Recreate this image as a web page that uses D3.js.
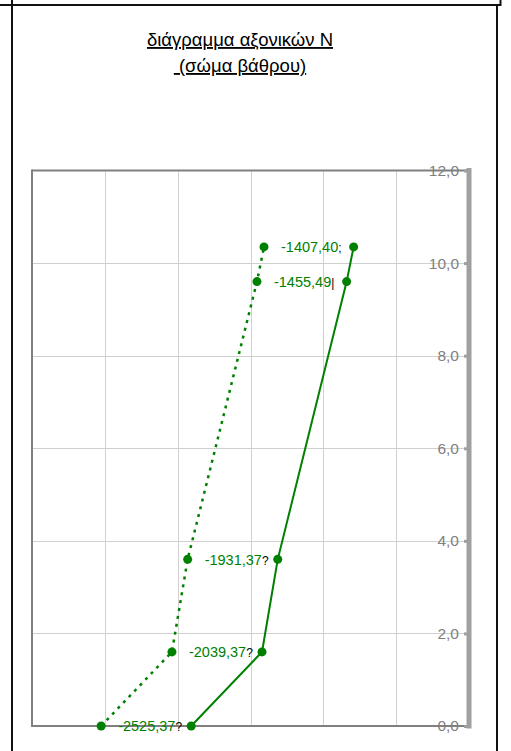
<!DOCTYPE html>
<html>
<head>
<meta charset="utf-8">
<script src="https://cdn.jsdelivr.net/npm/d3@7"></script>
<style>
  html, body { margin: 0; padding: 0; background: #fff; }
  svg { display: block; font-family: "Liberation Sans", Arial, sans-serif; }
</style>
</head>
<body>
<svg id="chart" width="511" height="751"></svg>
<script>
// Height of each section along the pier body (m)
const heights = [0, 1.6, 3.6, 9.6, 10.35];
// Axial force N, labelled series (kN)
const nDotted = [-2525.37, -2039.37, -1931.37, -1455.49, -1407.40];
// Axial force N, second series (kN)
const nSolid = [-1907, -1421, -1313, -840, -792];
// Trailing characters printed after each value label
const labelTails = ["?", "?", "?", "|", ";"];
// Vertical axis ticks
const yTicks = [0, 2, 4, 6, 8, 10, 12];
// Vertical grid positions along N
const xGrid = [-2500, -2000, -1500, -1000, -500];

const titleLines = ["διάγραμμα αξονικών Ν", " (σώμα βάθρου)"];

// Greek number style: comma decimal, plain hyphen minus
const locale = d3.formatLocale({ decimal: ",", thousands: ".", grouping: [3], currency: ["", "€"], minus: "-" });
const fmt1 = locale.format(".1f");
const fmt2 = locale.format(".2f");

const svg = d3.select("#chart");
const green = "#008000";

const x = d3.scaleLinear().domain([-3000, 0]).range([32, 469]);
const y = d3.scaleLinear().domain([0, 12]).range([726, 170.5]);

// Outer frame of the sheet
const frame = svg.append("g").attr("stroke", "#111").attr("stroke-width", 2).attr("fill", "none");
frame.append("line").attr("x1", 0).attr("x2", 501).attr("y1", 5).attr("y2", 5);
frame.append("line").attr("x1", 12).attr("x2", 12).attr("y1", 0).attr("y2", 751);
frame.append("line").attr("x1", 500.5).attr("x2", 500.5).attr("y1", 0).attr("y2", 6);
frame.append("line").attr("x1", 497).attr("x2", 497).attr("y1", 5).attr("y2", 751);

// Title
svg.append("g").selectAll("text").data(titleLines).join("text")
  .attr("x", 240)
  .attr("y", (d, i) => 46 + i * 26)
  .attr("text-anchor", "middle")
  .attr("font-size", 18.5)
  .attr("fill", "#000")
  .style("text-decoration", "underline")
  .style("white-space", "pre")
  .text(d => d);

// Grid
const grid = svg.append("g").attr("stroke", "#d0d0d0").attr("stroke-width", 1);
grid.selectAll(".h").data(yTicks.filter(t => t > 0 && t < 12)).join("line")
  .attr("x1", x(-3000)).attr("x2", x(0))
  .attr("y1", d => Math.round(y(d)) + 0.5).attr("y2", d => Math.round(y(d)) + 0.5);
grid.selectAll(".v").data(xGrid).join("line")
  .attr("x1", d => Math.round(x(d)) + 0.5).attr("x2", d => Math.round(x(d)) + 0.5)
  .attr("y1", y(12)).attr("y2", y(0));

// Plot border (left, top, bottom)
const border = svg.append("g").attr("stroke", "#808080").attr("stroke-width", 2).attr("fill", "none");
border.append("line").attr("x1", x(-3000)).attr("x2", x(0)).attr("y1", y(12)).attr("y2", y(12));
border.append("line").attr("x1", x(-3000)).attr("x2", x(0)).attr("y1", y(0)).attr("y2", y(0));
border.append("line").attr("x1", x(-3000)).attr("x2", x(-3000)).attr("y1", y(12) - 1).attr("y2", y(0) + 1);

// Right-hand axis at N = 0
const axis = svg.append("g").attr("transform", `translate(${x(0)},0)`)
  .call(d3.axisLeft(y).tickValues(yTicks).tickSize(5).tickPadding(5).tickFormat(fmt1));
axis.select(".domain").attr("stroke", "#a0a0a0").attr("stroke-width", 5)
  .attr("stroke-linecap", "square").attr("d", `M0,${y(12)}V${y(0)}`);
axis.selectAll(".tick line").attr("stroke", "#a0a0a0").attr("stroke-width", 3);
axis.selectAll(".tick text").attr("fill", "#808080").attr("font-size", 15.5)
  .attr("font-family", "\"Liberation Sans\", Arial, sans-serif");

// Series
const solidPts = heights.map((h, i) => [nSolid[i], h]);
const dottedPts = heights.map((h, i) => [nDotted[i], h]);
const line = d3.line().x(d => x(d[0])).y(d => y(d[1]));

svg.append("path").datum(solidPts).attr("d", line)
  .attr("fill", "none").attr("stroke", green).attr("stroke-width", 2);
svg.append("path").datum(dottedPts).attr("d", line)
  .attr("fill", "none").attr("stroke", green).attr("stroke-width", 2.5)
  .attr("stroke-dasharray", "3,5");

svg.append("g").selectAll("circle").data(solidPts).join("circle")
  .attr("cx", d => x(d[0])).attr("cy", d => y(d[1])).attr("r", 4.5).attr("fill", green);
svg.append("g").selectAll("circle").data(dottedPts).join("circle")
  .attr("cx", d => x(d[0])).attr("cy", d => y(d[1])).attr("r", 4.5).attr("fill", green);

// Value labels for the dotted series
const labels = svg.append("g").selectAll("text").data(dottedPts).join("text")
  .attr("x", d => x(d[0]) + 17)
  .attr("y", d => y(d[1]))
  .attr("dy", "0.36em")
  .attr("font-size", 14.5);
labels.append("tspan").attr("fill", green).text(d => fmt2(d[0]));
labels.append("tspan").attr("fill", "#000").attr("font-size", 12)
  .text((d, i) => labelTails[i]);
</script>
</body>
</html>
